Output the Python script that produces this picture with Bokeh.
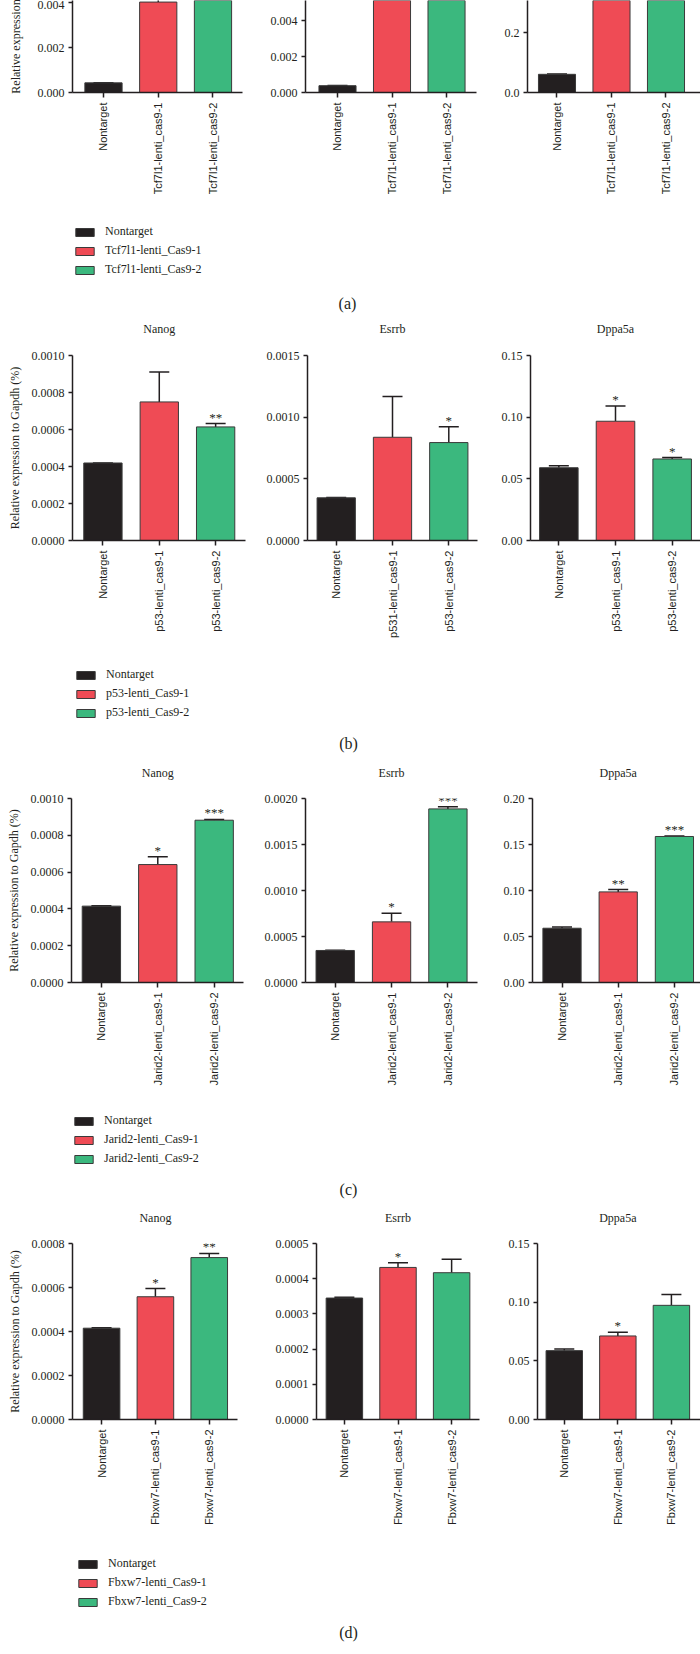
import math
from bokeh.plotting import figure
from bokeh.models import (Range1d, FixedTicker, PrintfTickFormatter, ColumnDataSource,
                          Whisker, TeeHead, LabelSet)
from bokeh.layouts import row, column
from bokeh.embed import file_html
from bokeh.resources import INLINE
from bokeh.core.properties import value

# ---------------- data ----------------
genes = ["Nanog", "Esrrb", "Dppa5a"]
captions = ["(a)", "(b)", "(c)", "(d)"]
bar_colors = ["#231f20", "#ef4b55", "#3bb87e"]
ylabel_full = "Relative expression to Gapdh (%)"
ylabel_cut = "Relative expression"

# (a) Tcf7l1 (top of the panel is cropped in the original)
a_cats = ["Nontarget", "Tcf7l1-lenti_cas9-1", "Tcf7l1-lenti_cas9-2"]
a_legend = ["Nontarget", "Tcf7l1-lenti_Cas9-1", "Tcf7l1-lenti_Cas9-2"]
a_nanog = [0.00043, 0.00403, 0.0052]
a_nanog_err = [0.00001, 0.0002, 0.0002]
a_esrrb = [0.00038, 0.0061, 0.0059]
a_esrrb_err = [0.00001, 0.0003, 0.0003]
a_dppa5a = [0.061, 0.35, 0.33]
a_dppa5a_err = [0.001, 0.02, 0.02]
a_stars = [["", "", ""], ["", "", ""], ["", "", ""]]
a_ticks = [[0, 0.002, 0.004], [0, 0.002, 0.004], [0.0, 0.2]]
a_fmt = ["%.3f", "%.3f", "%.1f"]

# (b) p53
b_cats = ["Nontarget", "p53-lenti_cas9-1", "p53-lenti_cas9-2"]
b_cats_esrrb = ["Nontarget", "p531-lenti_cas9-1", "p53-lenti_cas9-2"]
b_legend = ["Nontarget", "p53-lenti_Cas9-1", "p53-lenti_Cas9-2"]
b_nanog = [0.000419, 0.000749, 0.000614]
b_nanog_err = [0.0, 0.000162, 0.000018]
b_esrrb = [0.000346, 0.000837, 0.000794]
b_esrrb_err = [0.000003, 0.00033, 0.000129]
b_dppa5a = [0.0590, 0.0967, 0.0661]
b_dppa5a_err = [0.0016, 0.0123, 0.0011]
b_stars = [["", "", "**"], ["", "", "*"], ["", "*", "*"]]
b_ticks = [[0, 0.0002, 0.0004, 0.0006, 0.0008, 0.0010],
           [0, 0.0005, 0.0010, 0.0015],
           [0, 0.05, 0.10, 0.15]]
b_fmt = ["%.4f", "%.4f", "%.2f"]

# (c) Jarid2
c_cats = ["Nontarget", "Jarid2-lenti_cas9-1", "Jarid2-lenti_cas9-2"]
c_legend = ["Nontarget", "Jarid2-lenti_Cas9-1", "Jarid2-lenti_Cas9-2"]
c_nanog = [0.000415, 0.000641, 0.000882]
c_nanog_err = [0.000002, 0.000042, 0.000004]
c_esrrb = [0.000348, 0.000659, 0.001887]
c_esrrb_err = [0.000003, 0.000094, 0.000022]
c_dppa5a = [0.0590, 0.0985, 0.1587]
c_dppa5a_err = [0.0012, 0.0025, 0.0005]
c_stars = [["", "*", "***"], ["", "*", "***"], ["", "**", "***"]]
c_ticks = [[0, 0.0002, 0.0004, 0.0006, 0.0008, 0.0010],
           [0, 0.0005, 0.0010, 0.0015, 0.0020],
           [0, 0.05, 0.10, 0.15, 0.20]]
c_fmt = ["%.4f", "%.4f", "%.2f"]

# (d) Fbxw7
d_cats = ["Nontarget", "Fbxw7-lenti_cas9-1", "Fbxw7-lenti_cas9-2"]
d_legend = ["Nontarget", "Fbxw7-lenti_Cas9-1", "Fbxw7-lenti_Cas9-2"]
d_nanog = [0.000415, 0.000558, 0.000736]
d_nanog_err = [0.000002, 0.000037, 0.000019]
d_esrrb = [0.000345, 0.000432, 0.000417]
d_esrrb_err = [0.000002, 0.000013, 0.000038]
d_dppa5a = [0.0587, 0.0712, 0.0973]
d_dppa5a_err = [0.0014, 0.0031, 0.0093]
d_stars = [["", "*", "**"], ["", "*", ""], ["", "*", ""]]
d_ticks = [[0, 0.0002, 0.0004, 0.0006, 0.0008],
           [0, 0.0001, 0.0002, 0.0003, 0.0004, 0.0005],
           [0, 0.05, 0.10, 0.15]]
d_fmt = ["%.4f", "%.4f", "%.2f"]

sections = [
    dict(cats=[a_cats, a_cats, a_cats], legend=a_legend,
         vals=[a_nanog, a_esrrb, a_dppa5a], errs=[a_nanog_err, a_esrrb_err, a_dppa5a_err],
         stars=a_stars, ticks=a_ticks, fmt=a_fmt),
    dict(cats=[b_cats, b_cats_esrrb, b_cats], legend=b_legend,
         vals=[b_nanog, b_esrrb, b_dppa5a], errs=[b_nanog_err, b_esrrb_err, b_dppa5a_err],
         stars=b_stars, ticks=b_ticks, fmt=b_fmt),
    dict(cats=[c_cats, c_cats, c_cats], legend=c_legend,
         vals=[c_nanog, c_esrrb, c_dppa5a], errs=[c_nanog_err, c_esrrb_err, c_dppa5a_err],
         stars=c_stars, ticks=c_ticks, fmt=c_fmt),
    dict(cats=[d_cats, d_cats, d_cats], legend=d_legend,
         vals=[d_nanog, d_esrrb, d_dppa5a], errs=[d_nanog_err, d_esrrb_err, d_dppa5a_err],
         stars=d_stars, ticks=d_ticks, fmt=d_fmt),
]

# ---------------- layout (pixels / range limits) ----------------
PAGE_W = 700
# panels: (fig width, min_border_left, min_border_right, x start, x end, y end)
row_layout = [
    dict(frame_h=92, mb_top=0, mb_bottom=120, title_off=None, ylabel=ylabel_cut, ylab_standoff=12,
         ylab_align=None,
         panels=[(255, 72, 13, -0.566, 2.539, 0.0041), (235, 50, 14, -0.587, 2.55, 0.005123),
                 (210, 37, 0, -0.541, 2.633, 0.3088)]),
    dict(frame_h=185, mb_top=13, mb_bottom=115, title_off=27, ylabel=ylabel_full, ylab_standoff=7,
         ylab_align="left",
         panels=[(252, 72, 7, -0.54, 2.53, 0.0010), (234, 55, 9, -0.51, 2.51, 0.0015),
                 (214, 44, 0, -0.50, 2.50, 0.15)]),
    dict(frame_h=184, mb_top=13, mb_bottom=118, title_off=26, ylabel=ylabel_full, ylab_standoff=7,
         ylab_align="left",
         panels=[(252, 71, 9, -0.53, 2.52, 0.0010), (236, 53, 11, -0.527, 2.525, 0.0020),
                 (212, 44, 0, -0.525, 2.464, 0.20)]),
    dict(frame_h=176, mb_top=13, mb_bottom=121, title_off=26, ylabel=ylabel_full, ylab_standoff=7,
         ylab_align="left",
         panels=[(258, 72, 21, -0.54, 2.525, 0.0008), (237, 58, 16, -0.52, 2.52, 0.0005),
                 (205, 42, 0, -0.50, 2.543, 0.15)]),
]
legend_layout = [
    dict(h=130, lx=73, ly=65, cx=347, cy=39),
    dict(h=130, lx=74, ly=65, cx=348, cy=42),
    dict(h=130, lx=72, ly=64, cx=348, cy=41),
    dict(h=114, lx=76, ly=45, cx=348, cy=22),
]

INK = "#231f20"
SERIF = "Liberation Serif"
SANS = "Liberation Sans"


def make_panel(cats, vals, errs, stars, ticks, fmt, ylabel, lay, rl):
    w, mbl, mbr, xs, xe, ye = lay
    p = figure(width=w, height=rl["mb_top"] + rl["frame_h"] + rl["mb_bottom"],
               x_range=Range1d(xs, xe), y_range=Range1d(0, ye),
               output_backend="svg", toolbar_location=None,
               min_border_left=mbl, min_border_right=mbr,
               min_border_top=rl["mb_top"], min_border_bottom=rl["mb_bottom"],
               outline_line_color=None, background_fill_color="white",
               border_fill_color="white")
    p.grid.visible = False
    idx = list(range(len(cats)))
    upper = [v + e for v, e in zip(vals, errs)]
    src = ColumnDataSource(dict(x=idx, top=vals, upper=upper, color=bar_colors, star=stars))
    p.vbar(x="x", top="top", width=0.68, source=src, fill_color="color",
           line_color="#3a3a3a", line_width=1)
    p.add_layout(Whisker(source=src, base="x", lower="top", upper="upper", dimension="height",
                         line_color=INK, line_width=1.5, lower_head=None,
                         upper_head=TeeHead(size=20, line_color=INK, line_width=1.5)))
    p.add_layout(LabelSet(source=src, x="x", y="upper", text="star", y_offset=2,
                          text_align="center", text_baseline="alphabetic",
                          text_font=value(SERIF), text_font_size=value("13px"),
                          text_color=INK))
    xa = p.xaxis[0]
    xa.ticker = FixedTicker(ticks=idx, minor_ticks=[])
    xa.major_label_overrides = {i: c for i, c in enumerate(cats)}
    xa.major_label_orientation = math.pi / 2
    xa.major_label_text_font = SANS
    xa.major_label_text_font_size = "11px"
    xa.major_tick_out = 5
    xa.major_label_standoff = 5
    ya = p.yaxis[0]
    ya.ticker = FixedTicker(ticks=ticks, minor_ticks=[])
    ya.formatter = PrintfTickFormatter(format=fmt)
    ya.major_label_text_font = SERIF
    ya.major_label_text_font_size = "12px"
    ya.major_tick_out = 4
    ya.major_label_standoff = 4
    for ax in (xa, ya):
        ax.axis_line_width = 1.5
        ax.axis_line_color = INK
        ax.major_tick_line_width = 1.5
        ax.major_tick_line_color = INK
        ax.major_tick_in = 0
        ax.minor_tick_line_color = None
        ax.major_label_text_color = INK
    if ylabel:
        ya.axis_label = ylabel
        ya.axis_label_text_font = SERIF
        ya.axis_label_text_font_size = "12px"
        ya.axis_label_text_font_style = "normal"
        ya.axis_label_text_color = INK
        ya.axis_label_standoff = rl["ylab_standoff"]
        if rl["ylab_align"]:
            try:
                ya.axis_label_align = rl["ylab_align"]
            except Exception:
                pass
    return p


def title_positions(rl):
    """x (page pixels) of the middle category of each panel of a row."""
    xs_out = []
    left = 0
    for (w, mbl, mbr, xs, xe, ye) in rl["panels"]:
        fw = w - mbl - mbr
        xs_out.append(left + mbl + (1 - xs) / (xe - xs) * fw)
        left += w
    return xs_out


def make_legend(labels, caption, ll, next_rl):
    p = figure(width=PAGE_W, height=ll["h"], x_range=Range1d(0, PAGE_W),
               y_range=Range1d(0, ll["h"]),
               output_backend="svg", toolbar_location=None, x_axis_location=None,
               y_axis_location=None, min_border=0, outline_line_color=None,
               border_fill_color="white", background_fill_color="white")
    p.grid.visible = False
    for lab, col in zip(labels, bar_colors):
        # legend proxy: one zero-height bar placed outside the visible range
        p.vbar(x=[-1000], top=[0], width=1, fill_color=col, line_color="#3a3a3a",
               line_width=1, legend_label=lab)
    leg = p.legend[0]
    leg.location = (ll["lx"], ll["ly"])
    leg.glyph_width = 23
    leg.glyph_height = 10
    leg.label_standoff = 9
    leg.spacing = 4
    leg.padding = 0
    leg.margin = 0
    leg.label_height = 10
    leg.border_line_color = None
    leg.background_fill_alpha = 0
    leg.label_text_font = SERIF
    leg.label_text_font_size = "12px"
    leg.label_text_color = INK
    p.text(x=[ll["cx"]], y=[ll["cy"]], text=[caption], text_align="center",
           text_baseline="middle", text_font=value(SERIF), text_font_size="16px",
           text_color=INK)
    if next_rl is not None:
        ty = next_rl["title_off"] - next_rl["mb_top"]
        tx = title_positions(next_rl)
        p.text(x=tx, y=[ty] * 3, text=genes, text_align="center", text_baseline="middle",
               text_font=value(SERIF), text_font_size="12px", text_color=INK)
    return p


blocks = []
for s, (sec, rl, ll, cap) in enumerate(zip(sections, row_layout, legend_layout, captions)):
    figs = []
    for k in range(3):
        figs.append(make_panel(sec["cats"][k], sec["vals"][k], sec["errs"][k], sec["stars"][k],
                               sec["ticks"][k], sec["fmt"][k],
                               rl["ylabel"] if k == 0 else None, rl["panels"][k], rl))
    blocks.append(row(*figs))
    next_rl = row_layout[s + 1] if s + 1 < len(row_layout) else None
    blocks.append(make_legend(sec["legend"], cap, ll, next_rl))

layout = column(*blocks)
open("out.html", "w").write(file_html(layout, INLINE))
